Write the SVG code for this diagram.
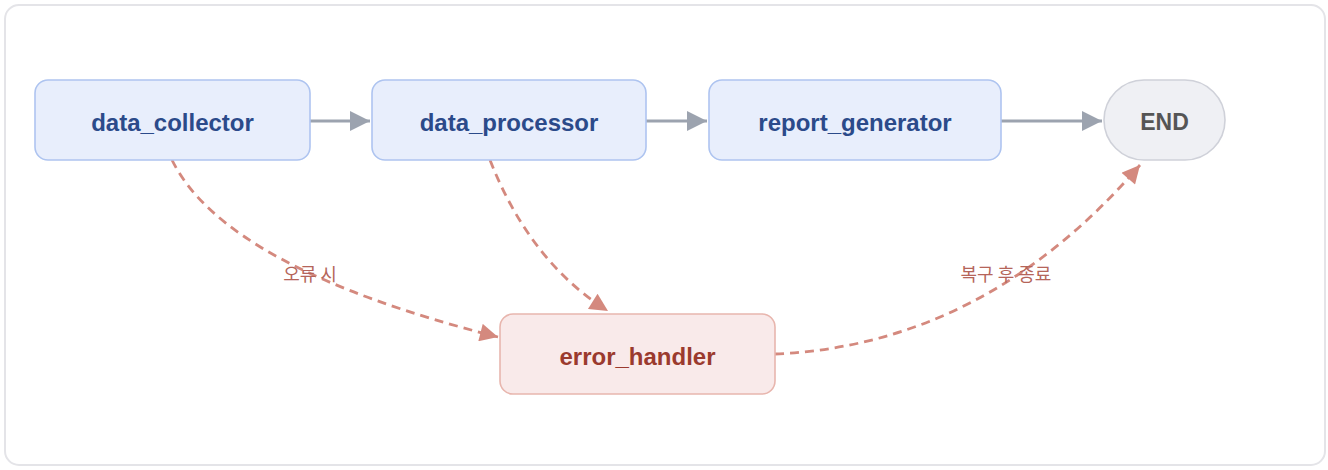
<svg xmlns="http://www.w3.org/2000/svg" width="1328" height="470" viewBox="0 0 1328 470">
<style>
.frame{fill:#ffffff;stroke:#e4e4e8;stroke-width:2}
.main{fill:#e8eefc;stroke:#aec4f0;stroke-width:1.6}
.endn{fill:#eff0f4;stroke:#cfd1d9;stroke-width:1.6}
.err{fill:#f9eaea;stroke:#e8b6ae;stroke-width:1.6}
.t{font-family:"Liberation Sans",Arial,sans-serif;font-weight:bold;font-size:24px;text-anchor:middle;dominant-baseline:central}
.tb{fill:#2b4a8a}
.te{fill:#555555;font-size:23px}
.tr{fill:#9b3a2e}
.flow{fill:none;stroke:#9ca3af;stroke-width:3}
.dash{fill:none;stroke:#d4897e;stroke-width:2.8;stroke-dasharray:9 6}
.lbl{font-family:"Noto Sans CJK KR","Noto Sans",sans-serif;font-size:18px;fill:#b5655a;text-anchor:middle;dominant-baseline:central}
</style>
<defs>
<marker id="ag" viewBox="0 0 10 10" refX="10" refY="5" markerWidth="22" markerHeight="20" markerUnits="userSpaceOnUse" orient="auto"><path d="M0,0 L10,5 L0,10 z" fill="#9ca3af"/></marker>
<marker id="ar" viewBox="0 0 10 10" refX="10" refY="5" markerWidth="22" markerHeight="18" markerUnits="userSpaceOnUse" orient="auto"><path d="M0,0 L10,5 L0,10 z" fill="#d4897e"/></marker>
</defs>
<rect class="frame" x="5" y="5" width="1320" height="460" rx="14"/>
<g id="connectors">
<path class="flow" d="M310,121 L370,121" marker-end="url(#ag)"/>
<path class="flow" d="M646,121 L707,121" marker-end="url(#ag)"/>
<path class="flow" d="M1001,121 L1102,121" marker-end="url(#ag)"/>
<path class="dash" d="M172,160 Q225,268 498,337" marker-end="url(#ar)"/>
<path class="dash" d="M490,160 Q530,262 608,311" marker-end="url(#ar)"/>
<path class="dash" d="M775,354 Q985,345 1140,165" marker-end="url(#ar)"/>
<text class="lbl" x="310" y="273">오류 시</text>
<text class="lbl" x="1006" y="273">복구 후 종료</text>
</g>
<g id="data_collector"><rect class="main" x="35" y="80" width="275" height="80" rx="13"/><text class="t tb" x="172.5" y="122">data_collector</text></g>
<g id="data_processor"><rect class="main" x="372" y="80" width="274" height="80" rx="13"/><text class="t tb" x="509" y="122">data_processor</text></g>
<g id="report_generator"><rect class="main" x="709" y="80" width="292" height="80" rx="13"/><text class="t tb" x="855" y="122">report_generator</text></g>
<g id="END"><rect class="endn" x="1104" y="80" width="121" height="80" rx="40"/><text class="t te" x="1164.5" y="122">END</text></g>
<g id="error_handler"><rect class="err" x="500" y="314" width="275" height="80" rx="13"/><text class="t tr" x="637.5" y="356">error_handler</text></g>
</svg>
